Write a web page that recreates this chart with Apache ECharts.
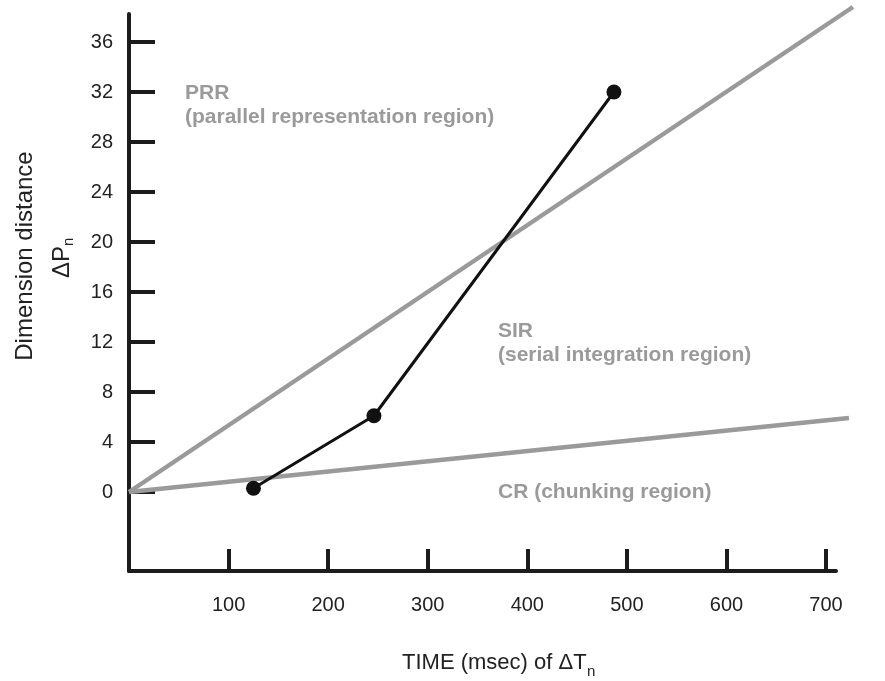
<!DOCTYPE html>
<html>
<head>
<meta charset="utf-8">
<script src="https://cdn.jsdelivr.net/npm/echarts@6/dist/echarts.min.js"></script>
<style>
  html, body { margin: 0; padding: 0; background: #fff; }
  #chart { width: 885px; height: 681px; }
</style>
</head>
<body>
<div id="chart"></div>
<script>
// tick values
const xTicks = [100, 200, 300, 400, 500, 600, 700];
const yTicks = [0, 4, 8, 12, 16, 20, 24, 28, 32, 36];

// region boundaries (gray)
const prrBoundary = [[0, 0], [727, 38.8]];
const crBoundary = [[0, 0], [723, 5.92]];

// measured points (black)
const timeMs = [125, 246, 487];
const distance = [0.3, 6.1, 32];

const AX = '#1c1c1c';
const GRAY = '#9a9a9b';
const FONT = 'Liberation Sans';

// main grid geometry
const W = 885, H = 681;
const G = { left: 129, right: 49, top: 14, bottom: 110 };
const X_MIN = 0, X_MAX = 710, Y_MIN = -6.32, Y_MAX = 38.24;
// the gray boundaries run past the axes, so they sit on a wider hidden grid with the same scale
const X2_MAX = 730, Y2_MAX = 39;
const pxX = (W - G.left - G.right) / (X_MAX - X_MIN);
const pxY = (H - G.top - G.bottom) / (Y_MAX - Y_MIN);
const G2 = {
  left: G.left,
  right: W - G.left - (X2_MAX - X_MIN) * pxX,
  top: G.top - (Y2_MAX - Y_MAX) * pxY,
  bottom: G.bottom
};

let chart = echarts.init(document.getElementById('chart'));

let option = {
  backgroundColor: '#fff',
  animation: false,
  textStyle: { fontFamily: FONT },
  grid: [
    Object.assign({ containLabel: false, outerBoundsMode: 'none' }, G),
    Object.assign({ containLabel: false, outerBoundsMode: 'none' }, G2)
  ],
  xAxis: [{
    type: 'value', gridIndex: 0,
    min: X_MIN, max: X_MAX,
    axisLine: { onZero: false, lineStyle: { color: AX, width: 4 } },
    axisTick: { inside: true, length: 22, customValues: xTicks, lineStyle: { color: AX, width: 4 } },
    axisLabel: { customValues: xTicks, margin: 24, fontSize: 20, color: '#222', fontFamily: FONT },
    splitLine: { show: false }
  }, {
    type: 'value', gridIndex: 1, show: false,
    min: X_MIN, max: X2_MAX, splitLine: { show: false }
  }],
  yAxis: [{
    type: 'value', gridIndex: 0,
    min: Y_MIN, max: Y_MAX,
    axisLine: { onZero: false, lineStyle: { color: AX, width: 4 } },
    axisTick: { inside: true, length: 26, customValues: yTicks, lineStyle: { color: AX, width: 4 } },
    axisLabel: { customValues: yTicks, margin: 16, fontSize: 20, color: '#222', fontFamily: FONT },
    splitLine: { show: false }
  }, {
    type: 'value', gridIndex: 1, show: false,
    min: Y_MIN, max: Y2_MAX, splitLine: { show: false }
  }],
  series: [
    {
      type: 'line', xAxisIndex: 1, yAxisIndex: 1, data: prrBoundary, symbol: 'none', z: 1,
      lineStyle: { color: GRAY, width: 4.5 }
    },
    {
      type: 'line', xAxisIndex: 1, yAxisIndex: 1, data: crBoundary, symbol: 'none', z: 1,
      lineStyle: { color: GRAY, width: 4.5 }
    },
    {
      type: 'line', data: timeMs.map((t, i) => [t, distance[i]]),
      symbol: 'circle', symbolSize: 15, z: 3,
      itemStyle: { color: '#111' },
      lineStyle: { color: '#111', width: 3 }
    }
  ],
  graphic: [
    // y axis title
    {
      type: 'text', x: 25, y: 256, rotation: Math.PI / 2,
      style: { text: 'Dimension distance', font: '24px "Liberation Sans"', fill: '#222', align: 'center', verticalAlign: 'middle' }
    },
    {
      type: 'group', x: 62, y: 256, rotation: Math.PI / 2,
      children: [
        { type: 'text', x: 10, y: 0, style: { text: 'ΔP', font: '24px "Liberation Sans"', fill: '#222', align: 'right', verticalAlign: 'middle' } },
        { type: 'text', x: 10, y: 7, style: { text: 'n', font: '15px "Liberation Sans"', fill: '#222', align: 'left', verticalAlign: 'middle' } }
      ]
    },
    // x axis title
    {
      type: 'text', x: 402, y: 663,
      style: { text: 'TIME (msec) of ΔT', font: '22px "Liberation Sans"', fill: '#222', align: 'left', verticalAlign: 'middle' }
    },
    {
      type: 'text', x: 587, y: 672,
      style: { text: 'n', font: '15px "Liberation Sans"', fill: '#222', align: 'left', verticalAlign: 'middle' }
    },
    // region labels
    {
      type: 'text', x: 185, y: 81,
      style: { text: 'PRR\n(parallel representation region)', font: 'bold 21px "Liberation Sans"', lineHeight: 24, fill: GRAY, align: 'left', verticalAlign: 'top' }
    },
    {
      type: 'text', x: 498, y: 319,
      style: { text: 'SIR\n(serial integration region)', font: 'bold 21px "Liberation Sans"', lineHeight: 24, fill: GRAY, align: 'left', verticalAlign: 'top' }
    },
    {
      type: 'text', x: 498, y: 492,
      style: { text: 'CR (chunking region)', font: 'bold 21px "Liberation Sans"', fill: GRAY, align: 'left', verticalAlign: 'middle' }
    }
  ]
};

chart.setOption(option);
</script>
</body>
</html>
